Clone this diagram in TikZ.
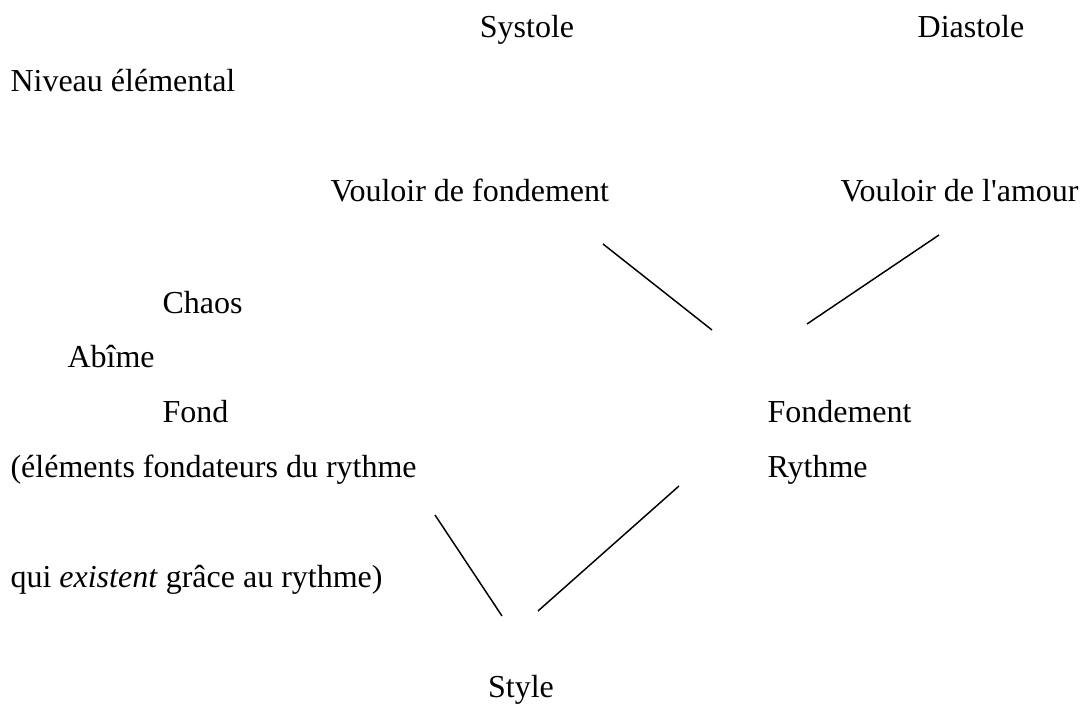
\documentclass[tikz,border=0pt]{standalone}
\usepackage{fontspec}
\setmainfont{Liberation Serif}

\begin{document}
\begin{tikzpicture}[x=.375pt,y=-.375pt,font=\fontsize{12}{14}\selectfont,
  lbl/.style={inner sep=0pt,anchor=base west},
  mid/.style={inner sep=0pt,anchor=base},
  stroke/.style={line width=.55pt}]
\useasboundingbox (0,0) rectangle (1084,704);
% heads
\node[mid] (systole) at (527,38) {Systole};
\node[mid] (diastole) at (971,38) {Diastole};
\node[lbl] (niveau) at (10,92) {Niveau élémental};
\node[lbl] (vfond) at (330,202) {Vouloir de fondement};
\node[lbl] (vamour) at (840,202) {Vouloir de l\textquotesingle amour};
% left column
\node[lbl] (chaos) at (162,314) {Chaos};
\node[lbl] (abime) at (67,368) {Abîme};
\node[lbl] (fond) at (162,423) {Fond};
\node[lbl] (elem) at (10,478) {(éléments fondateurs du rythme};
\node[lbl] (qui) at (10,588) {qui \textit{existent} grâce au rythme)};
% right column
\node[lbl] (fondement) at (767,423) {Fondement};
\node[lbl] (rythme) at (767,478) {Rythme};
\node[mid] (style) at (521,698) {Style};
% connectors
\coordinate (a1) at (603,244); \coordinate (a2) at (712,330);
\coordinate (b1) at (939,235); \coordinate (b2) at (807,324);
\coordinate (c1) at (435,515); \coordinate (c2) at (502,616);
\coordinate (d1) at (679,486); \coordinate (d2) at (538,611);
\draw[stroke] (a1)--(a2);
\draw[stroke] (b1)--(b2);
\draw[stroke] (c1)--(c2);
\draw[stroke] (d1)--(d2);
\end{tikzpicture}
\end{document}
